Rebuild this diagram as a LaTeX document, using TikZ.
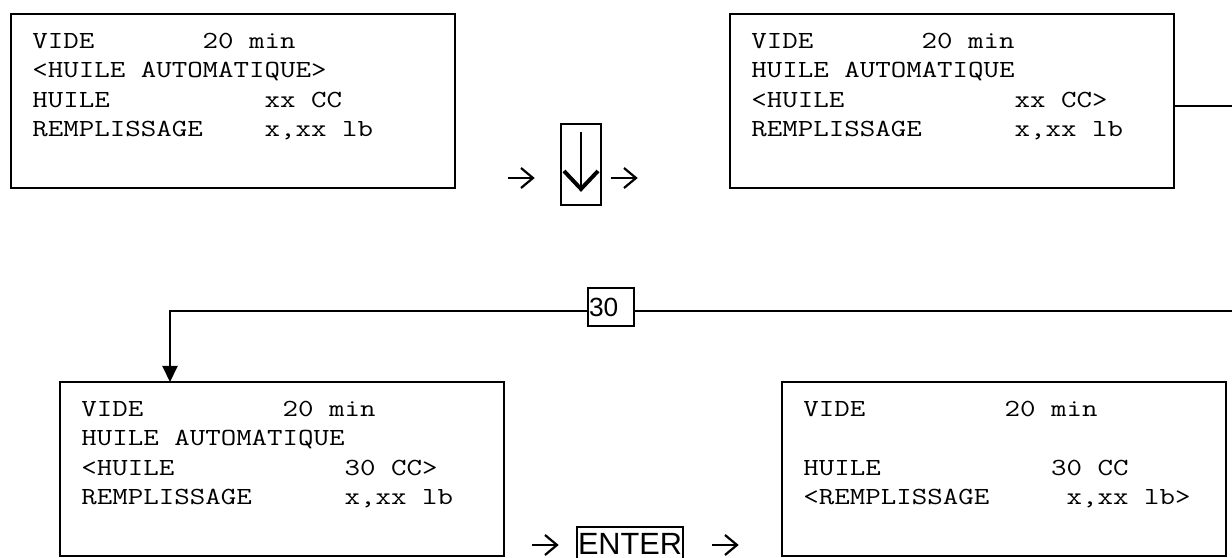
\documentclass[tikz,border=0pt]{standalone}
\usepackage{fontspec}
\setmainfont{Liberation Sans}
\newfontfamily\courfont{Latin Modern Mono}[FakeStretch=1.224]
\usetikzlibrary{arrows.meta}
\newcommand\pxu{0.456pt}
\begin{document}
\begin{tikzpicture}[x=0.456pt, y=-0.456pt,
  screen/.style={draw, line width=0.8pt, anchor=north west, inner sep=0pt, outer sep=0pt,
                 minimum width=444*\pxu, minimum height=174*\pxu},
  lcd/.style={font=\courfont\fontsize{11.2pt}{13.6pt}\selectfont, anchor=base west, inner sep=0pt},
  keybox/.style={draw, line width=0.7pt, inner sep=0pt, outer sep=0pt},
  conn/.style={line width=0.7pt},
  rarr/.pic={
    \draw[line width=0.9pt] (-12.5,0) -- (11.5,0);
    \draw[line width=1pt, line join=miter] (0.5,-10) -- (12.5,0) -- (0.5,10);
  }]
\useasboundingbox (0,0) rectangle (1232,558);
\fill[white] (0,0) rectangle (1232,558);
\clip (0,0) rectangle (1232,558);

% screens
\node[screen] (b1) at (11,14) {};
\node[screen] (b2) at (730,14) {};
\node[screen] (b3) at (60,382) {};
\node[screen] (b4) at (782,382) {};

% screen 1
\node[lcd] (t11) at (32,48.5)  {VIDE~~~~~~~20~min};
\node[lcd] (t12) at (32,78)    {<HUILE~AUTOMATIQUE>};
\node[lcd] (t13) at (32,107.5) {HUILE~~~~~~~~~~xx~CC};
\node[lcd] (t14) at (32,137)   {REMPLISSAGE~~~~x,xx~lb};

% screen 2
\node[lcd] (t21) at (751,48.5)  {VIDE~~~~~~~20~min};
\node[lcd] (t22) at (751,78)    {HUILE~AUTOMATIQUE};
\node[lcd] (t23) at (751,107.5) {<HUILE~~~~~~~~~~~xx~CC>};
\node[lcd] (t24) at (751,137)   {REMPLISSAGE~~~~~~x,xx~lb};

% screen 3
\node[lcd] (t31) at (81,416.5) {VIDE~~~~~~~~~20~min};
\node[lcd] (t32) at (81,446)   {HUILE~AUTOMATIQUE};
\node[lcd] (t33) at (81,475.5) {<HUILE~~~~~~~~~~~30~CC>};
\node[lcd] (t34) at (81,505)   {REMPLISSAGE~~~~~~x,xx~lb};

% screen 4
\node[lcd] (t41) at (803,416.5) {VIDE~~~~~~~~~20~min};
\node[lcd] (t43) at (803,475.5) {HUILE~~~~~~~~~~~30~CC};
\node[lcd] (t44) at (803,505)   {<REMPLISSAGE~~~~~x,xx~lb>};

% key: down arrow
\node[keybox, anchor=north west, minimum width=40*\pxu, minimum height=81*\pxu] (kdown) at (561,124) {};
\draw[line width=0.9pt] (kdown.center |- 0,132) -- (kdown.center |- 0,188);
\draw[line width=1.8pt, line join=miter, miter limit=10] (564,171) -- (581,189) -- (598,171);

% key: 30
\node[keybox, anchor=north west, minimum height=38*\pxu, text width=44*\pxu, inner xsep=1*\pxu,
      align=left, font=\fontsize{12pt}{14pt}\selectfont] (n30) at (588,288) {30};

% key: ENTER
\node[keybox, anchor=north west, inner xsep=1*\pxu, inner ysep=6*\pxu,
      font=\fontsize{14pt}{16pt}\selectfont] (enter) at (577,527) {ENTER};

% glyph arrows
\pic at (520.5,178) {rarr};
\pic at (623.5,178) {rarr};
\pic at (544.5,545) {rarr};
\pic at (724.5,545) {rarr};

% connectors
\coordinate (edgeA) at (1250,106);
\coordinate (edgeB) at (1250,311);
\coordinate (bend) at (170,311);
\draw[conn] (b2.east |- edgeA) -- (edgeA) -- (edgeB) -- (n30.east |- edgeB);
\draw[conn, -{Triangle[length=7.4pt, width=7pt]}] (n30.west |- bend) -- (bend) -- (bend |- b3.north);
\end{tikzpicture}
\end{document}
